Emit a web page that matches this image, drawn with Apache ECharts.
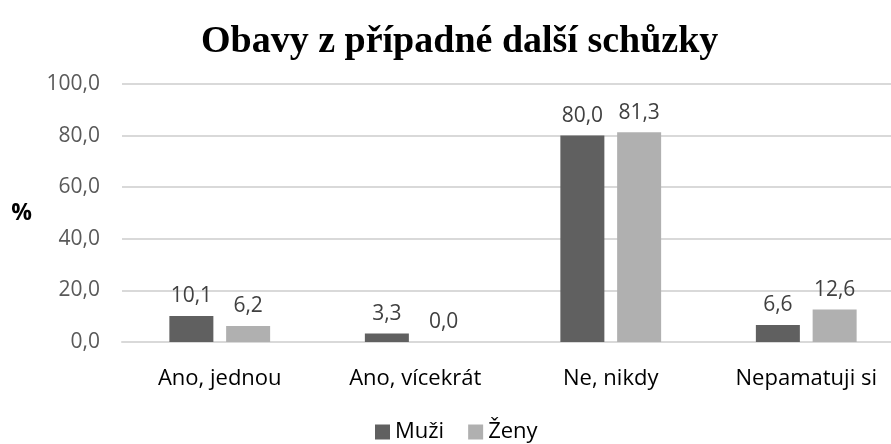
<!DOCTYPE html>
<html>
<head>
<meta charset="utf-8">
<script src="https://cdn.jsdelivr.net/npm/echarts@6/dist/echarts.min.js"></script>
<style>
html, body { margin: 0; padding: 0; background: #fff; overflow: hidden; width: 891px; height: 444px; }
#chart { width: 904px; height: 444px; }
</style>
</head>
<body>
<div id="chart"></div>
<script>
var categories = ['Ano, jednou', 'Ano, vícekrát', 'Ne, nikdy', 'Nepamatuji si'];
var muzi = [10.1, 3.3, 80.0, 6.6];
var zeny = [6.2, 0.0, 81.3, 12.6];
var seriesNames = ['Muži', 'Ženy'];

// plot area runs a bit past the right edge, as in the source picture
var chart = echarts.init(document.getElementById('chart'));

function fmt(v) {
    return v.toFixed(1).replace('.', ',');
}

var labelStyle = {
    show: true,
    position: 'top',
    distance: 9,
    fontFamily: 'Open Sans',
    fontSize: 21,
    color: '#404040',
    formatter: function (p) { return fmt(p.value); }
};

chart.setOption({
    animation: false,
    title: {
        text: 'Obavy z případné další schůzky',
        left: 196,
        top: 18,
        textStyle: {
            fontFamily: 'Liberation Serif',
            fontWeight: 'bold',
            fontSize: 38,
            color: '#000'
        }
    },
    grid: {
        left: 122,
        right: 0,
        top: 84,
        bottom: 102
    },
    legend: {
        top: 416,
        left: 370,
        itemWidth: 15,
        itemHeight: 15,
        itemGap: 24,
        icon: 'rect',
        textStyle: {
            fontFamily: 'Open Sans',
            fontSize: 22,
            color: '#000'
        },
        data: seriesNames
    },
    xAxis: {
        type: 'category',
        data: categories,
        axisLine: { show: true, lineStyle: { color: '#d9d9d9', width: 2 } },
        axisTick: { show: false },
        axisLabel: {
            fontFamily: 'Open Sans',
            fontSize: 22,
            color: '#000',
            margin: 26
        }
    },
    yAxis: {
        type: 'value',
        min: 0,
        max: 100,
        interval: 20,
        name: '%',
        nameLocation: 'middle',
        nameRotate: 0,
        nameGap: 90,
        nameTextStyle: {
            fontFamily: 'Open Sans',
            fontSize: 23,
            fontWeight: 'bold',
            color: '#000'
        },
        axisLine: { show: false },
        axisTick: { show: false },
        splitLine: { lineStyle: { color: '#d9d9d9', width: 2 } },
        axisLabel: {
            fontFamily: 'Open Sans',
            fontSize: 21,
            color: '#595959',
            margin: 22,
            formatter: function (v) { return fmt(v); }
        }
    },
    series: [
        {
            name: seriesNames[0],
            type: 'bar',
            data: muzi,
            barWidth: 44,
            barGap: '29%',
            itemStyle: { color: '#606060' },
            label: labelStyle
        },
        {
            name: seriesNames[1],
            type: 'bar',
            data: zeny,
            barWidth: 44,
            itemStyle: { color: '#b0b0b0' },
            label: labelStyle
        }
    ]
});
</script>
</body>
</html>
